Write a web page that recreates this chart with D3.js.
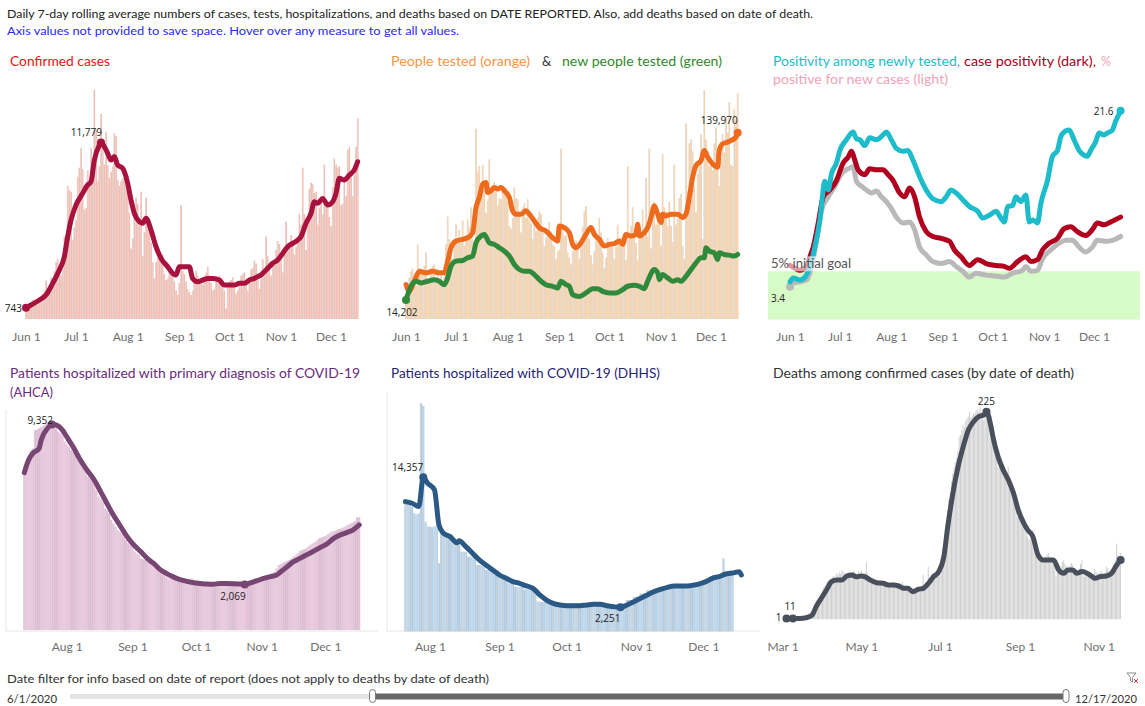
<!DOCTYPE html>
<html>
<head>
<meta charset="utf-8">
<script src="https://cdn.jsdelivr.net/npm/d3@7"></script>
<style>
  html, body { margin: 0; padding: 0; background: #fff; }
  svg { display: block; font-family: Lato, "Open Sans", "DejaVu Sans", sans-serif; }
</style>
</head>
<body>
<svg id="chart" width="1145" height="706"></svg>
<script>
// ---------------- DATA ----------------
// Tick labels
const ticksTop = ["2020-06-01","2020-07-01","2020-08-01","2020-09-01","2020-10-01","2020-11-01","2020-12-01"];
const ticksHosp = ["2020-08-01","2020-09-01","2020-10-01","2020-11-01","2020-12-01"];
const ticksDeaths = ["2020-03-01","2020-05-01","2020-07-01","2020-09-01","2020-11-01"];

// Confirmed cases, daily, Jun 1 .. Dec 17
const casesDaily = [
 750,700,1000,1100,1250,1300,1200, 970,1100,1370,1700,1900,2580,2000,
 1750,2780,2600,3200,3800,4000,3500, 2900,3300,5500,5000,8900,8600,8500,
 5300,6100,6600,9500,10100,11400,10000, 7300,7400,9900,8900,11400,10300,15300,
 12600,9200,10200,13700,11400,10300,12500, 10300,9400,9800,10200,12400,12200,9300,
 8900,9200,9400,9400,9000,9600,7100, 4700,5400,7700,8100,7700,6200,8500,
 4200,5800,8100,6200,6200,5100,3800, 2700,3800,4100,4500,4000,4300,3000,
 2600,2700,3200,3300,3100,2500,1900, 1600,2400,7600,3200,3000,2500,2000,
 1800,1600,1900,2500,3200,2900,2600, 2400,2300,2800,3100,3500,2900,2400,
 1900,2000,2600,2700,2900,2600,2200, 1900,700,2100,2500,2600,2800,2400,
 1700,1900,2500,2900,3000,3100,2500, 1900,2500,3300,3400,3900,3700,2800,
 2000,2700,4000,3400,5500,4200,3300, 2900,3900,4000,4600,5200,5000,4000,
 3100,4500,6500,4600,5000,5600,4900, 4300,4800,5400,7000,6300,10100,7000,
 4600,6700,8700,9100,9000,8400,8500, 6300,7400,8200,7000,10300,7800,7600,
 6800,6200,8800,10700,10300,10100,10200, 7600,7700,9400,8200,11300,11500,9800,
 8200,9600,11500,13400];
// 7-day average of cases (day offset from Jun 1, value)
const casesAvgDay = [0,3,8,12,16,20,23,25,27,30,34,37,39,41,44,45,47,49,51,53,55,58,61,63,65,68,70,72,75,78,81,85,88,90,92,95,98,100,103,106,109,112,116,119,122,125,128,131,134,137,139,141,143,145,148,151,154,157,160,163,165,168,171,173,175,178,181,184,186,188,191,194,197,199];
const casesAvgVal = [743,935,1270,1600,2380,3270,4160,5500,6600,7610,8390,8950,9170,10600,11600,11779,11500,11060,10610,10840,10280,10060,9060,7940,7050,6500,6390,6720,5940,4830,4050,3490,3050,2940,3490,3490,3490,2710,2490,2600,2710,2710,2600,2270,2270,2270,2380,2380,2600,2710,2830,2940,3160,3380,3720,3940,4380,4830,5050,5270,5500,6390,7050,7830,7720,8050,7610,7830,8390,9390,9280,9610,9950,10500];

// People tested, daily (thousands), Jun 1 .. Dec 17
const testsDailyK = [
 14,26,31,36,38,30,25, 56,38,36,33,40,50,30, 28,38,40,41,31,38,30,
 33,26,41,56,77,60,50, 45,60,71,60,67,57,74, 55,63,75,69,84,60,50,
 143,111,115,102,116,104,80, 89,120,99,101,103,96,85, 91,90,100,94,99,88,70,
 68,76,99,91,90,80,65, 84,87,76,90,74,72,60, 71,66,76,81,79,65,55,
 61,63,73,66,56,55,45, 51,52,128,71,62,63,50, 46,41,51,56,59,55,45,
 61,69,81,85,61,60,48, 41,51,66,61,76,65,50, 38,46,61,56,54,54,45,
 54,71,56,61,56,58,44, 115,61,70,84,68,57,44, 60,61,82,62,106,62,128,
 53,74,88,71,82,72,55, 124,84,81,70,88,70,58, 116,71,76,91,94,55,45,
 147,96,132,135,126,100,80, 109,117,139,60,172,135,126, 115,120,112,132,144,128,100,
 120,139,125,152,140,163,116, 115,158,150,170];
const testedAvgDay = [0,2,5,8,12,16,20,23,25,27,30,34,37,40,42,44,46,48,49,51,53,55,57,59,62,64,66,69,72,74,77,80,84,88,91,92,95,98,100,102,105,108,111,113,116,119,122,125,128,130,132,135,138,139,140,143,145,147,149,151,153,154,156,159,163,166,168,170,172,174,177,179,181,184,187,188,190,193,195,198,199];
const testedAvgVal = [25900,20800,28400,35900,34700,35900,34700,34700,43500,53600,58600,59900,61100,64900,83800,91400,101400,102700,95100,96400,98900,97700,98900,96400,91400,81300,78800,78800,81300,78800,73700,68700,66200,61100,58600,69900,68700,64900,56100,53600,57300,63600,68700,63600,59900,54800,56100,56700,58600,56100,63600,62400,63600,71200,62400,64900,68700,76300,85100,78800,72500,78800,77500,78800,78800,76300,78800,91400,106500,115300,119100,126700,121700,116600,114100,126700,131700,133000,134200,136800,139970];
const newTestedAvgDay = [0,3,6,9,13,17,20,23,25,27,30,34,37,40,42,45,47,50,53,56,59,62,65,68,71,74,77,80,84,88,91,93,96,98,100,104,108,112,115,118,122,126,130,133,137,140,143,145,149,151,152,154,157,160,163,165,168,171,174,177,179,180,182,185,187,188,191,194,197,199];
const newTestedAvgVal = [14202,24600,28400,27100,28400,29600,28400,25800,30900,39700,43500,44000,46000,47300,57300,62400,63600,57300,56100,53600,51000,47300,41000,37200,35900,35900,33400,29600,25800,24600,23300,28400,25800,24600,18300,17000,19600,22800,22800,20800,19600,19600,22100,24600,25300,24600,22800,28400,37200,34700,29600,33400,30900,28400,29600,28400,32100,37200,42200,46000,46000,53600,51000,49800,44700,49800,48500,48000,47300,48500];

// Positivity (%)
const newPosDay = [0,2,6,9,12,15,18,21,23,25,28,30,34,38,40,42,45,48,52,56,58,61,64,68,71,74,78,82,86,91,94,97,100,104,108,113,116,120,124,127,129,131,134,136,139,142,144,146,149,151,155,158,161,163,165,168,171,174,177,179,181,184,186,189,191,194,196,199];
const newPosPct = [3.9,4.3,4.1,4.4,5.5,7.5,10.3,14.3,13.4,15.1,16.2,17.5,18.6,19.4,18.7,18.6,18.0,18.8,18.6,19.1,19.4,18.6,17.7,17.4,17.5,16.5,14.8,13.4,12.5,12.2,12.7,13.4,13.1,12.4,11.7,11.2,10.5,10.8,11.2,10.5,10.1,11.7,11.8,12.7,12.2,12.9,10.1,10.3,10.0,12.0,14.4,16.9,17.5,18.9,19.4,19.6,18.6,17.5,17.0,16.9,17.5,18.4,19.3,19.1,19.3,19.6,20.5,21.6];
const casePosDay = [0,3,6,10,12,14,17,20,24,28,32,35,37,39,41,45,48,52,56,59,62,66,69,72,75,78,82,86,91,96,99,103,108,113,118,124,129,132,137,142,145,149,152,156,161,165,169,173,178,182,185,189,193,199];
const casePosPct = [5.6,5.3,5.1,5.5,6.5,7.5,10.0,12.7,13.4,14.4,16.2,16.8,17.4,16.5,15.5,15.0,15.6,15.5,15.5,15.0,14.4,13.1,12.7,13.6,12.7,10.6,9.1,8.6,8.4,8.1,7.2,6.5,5.6,6.2,5.8,5.6,5.5,5.3,6.0,6.5,6.0,6.2,7.2,7.9,8.4,9.4,9.6,9.1,8.7,9.3,10.0,9.8,10.1,10.6];
const newCasePosDay = [0,2,6,10,13,16,19,23,27,31,35,38,40,43,46,49,52,55,58,61,64,68,72,75,78,82,86,91,96,100,104,108,112,118,124,129,134,140,142,145,149,152,157,162,166,170,174,178,182,185,190,194,199];
const newCasePosPct = [3.4,3.8,3.9,4.1,5.5,8.2,11.3,12.7,13.8,15.1,15.6,15.8,14.3,13.8,13.4,13.1,13.3,12.7,12.2,11.5,10.6,10.0,10.1,9.3,7.5,6.7,6.0,5.8,6.0,5.5,5.0,4.4,4.8,4.6,4.5,4.4,4.8,5.1,5.5,5.0,5.1,6.3,7.2,7.9,8.2,8.2,7.5,7.0,7.5,8.2,8.1,8.2,8.6];
const goalPct = 5;

// AHCA hospitalized, daily Jul 12 .. Dec 17
const ahcaDaily = [
 7280,7600,7890,8190,8270,9100,9120,9180,9250,9300,
 9410,9480,9450,9330,9250,9180,9030,8950,8870,8570,
 8450,8340,8190,8100,8040,8000,7960,7740,7600,7430,
 6980,6900,6830,6600,6350,6070,5950,5840,5540,5420,
 5310,5010,4850,4700,4550,4480,4400,4250,4100,3940,
 3860,3790,3560,3480,3410,3260,3220,3190,3150,3110,
 2960,2880,2810,2730,2690,2650,2500,2420,2350,2330,
 2310,2280,2260,2250,2200,2180,2150,2200,2300,2350,
 2250,2200,2150,2150,2140,2150,2130,2150,2140,2150,
 2130,2150,2140,2150,2120,2110,2100,2110,2100,2090,
 2110,2100,2120,2150,2160,2200,2250,2280,2300,2350,
 2350,2380,2430,2430,2450,2480,2500,2580,2650,2800,
 2960,3000,3060,3100,3150,3190,3250,3340,3400,3500,
 3600,3640,3680,3720,3800,3880,3940,4000,4080,4170,
 4200,4240,4280,4350,4400,4480,4500,4530,4580,4600,
 4650,4700,4750,4800,4850,4900,4950,5130,5130];
// (day offset from Aug 1)
const ahcaAvgDay = [-20,-18,-16,-13,-12,-9,-7,-5,-2,0,3,6,9,13,16,19,22,25,28,31,35,38,41,44,47,50,53,57,60,63,66,69,72,75,79,82,84,86,90,93,96,99,101,104,107,110,113,116,119,123,126,129,132,135,138];
const ahcaAvgVal = [7160,7740,8040,8270,8650,9180,9352,9330,9100,8800,8340,7810,7360,6830,6300,5760,5230,4780,4320,3940,3560,3260,3030,2760,2580,2430,2310,2210,2150,2120,2090,2080,2120,2120,2110,2090,2069,2120,2250,2350,2430,2500,2650,2880,3110,3260,3410,3560,3720,3940,4170,4320,4430,4550,4780];

// DHHS hospitalized, daily Jul 21 .. Dec 14
const dhhsDaily = [
 12100,11900,11800,11600,11000,10900,11000,21250,21000,10230,
 9770,9750,9700,9770,9920,6350,9140,9200,9140,9100,
 9000,8400,8370,8350,8300,7430,7430,7400,6970,6970,
 6950,6900,6190,6190,6150,6100,5730,5730,5700,5700,
 5260,5260,5250,4950,4950,4900,4490,4490,4450,4180,
 4180,4150,4150,3930,3930,3900,3900,3880,3860,2780,
 2780,2760,2750,2740,2720,2700,2680,2620,2620,2610,
 2620,2610,2600,2620,2610,2620,2600,2610,2620,2630,
 2640,2650,2650,2640,2640,2650,2640,2620,2600,2600,
 2470,2470,2460,2470,2450,2470,2560,2600,2620,2930,
 2930,2950,3240,3240,3250,3550,3550,3560,3860,3860,
 3860,3870,3880,3860,4180,4180,4200,4190,4240,4240,
 4240,4250,4230,4240,4250,4240,4250,4240,4420,4420,
 4430,4420,4550,4560,4550,4860,4870,4860,5110,5110,
 5120,5110,6810,5420,5420,5430,5420];
const dhhsAvgDay = [-11,-8,-5,-3,-1,2,4,6,9,12,13,16,19,22,25,28,31,34,37,40,43,46,49,52,55,58,61,64,67,70,73,76,79,82,85,88,91,94,97,100,103,106,109,112,115,118,121,124,126,129,132,134,136,138,139];
const dhhsAvgVal = [12090,11940,11630,14357,13800,13180,9920,9150,8830,8270,8460,7900,7280,6660,6190,5730,5260,4950,4640,4490,4240,4020,3400,2930,2620,2470,2400,2400,2400,2470,2530,2530,2400,2310,2251,2470,2780,3090,3400,3710,3930,4110,4240,4240,4240,4330,4490,4730,4950,5110,5350,5420,5480,5570,5260];

// Deaths by date of death, daily Mar 4 .. Nov 18
const deathsDaily = [
 1,0,1,0,0,1,0,1,1,2, 1,2,1,3,2,3,4,6,5,8,
 10,12,15,14,17,20,24,27,31,35, 37,39,41,42,43,44,46,47,45,50,
 48,51,49,53,52,50,47,49,51,50, 52,49,53,51,50,47,52,50,53,48,
 46,51,62,50,43,45,44,42,40,39, 38,41,40,42,39,41,38,40,39,38,
 37,39,38,40,39,36,35,37,36,35, 40,38,33,35,34,35,33,32,32,31,
 30,32,32,33,31,32,48,36,35,35, 57,42,44,50,46,49,52,55,52,55,
 60,68,73,85,104,118,130,137,150,158, 165,170,175,182,198,200,205,211,208,215,
 218,220,225,219,221,223,223,226,228,224, 230,225,220,216,220,221,218,212,196,220,
 205,198,191,180,165,170,168,173,162,155, 160,158,165,150,142,137,130,122,118,111,
 115,118,119,110,106,100,96,90,86,88, 92,97,88,80,72,70,72,68,66,63,
 65,68,70,72,68,66,64,64,60,46, 52,55,50,58,62,64,60,58,55,57,
 58,61,59,55,52,50,53,55,60,64, 48,46,50,52,50,47,45,44,49,55,
 52,50,48,50,53,50,49,51,57,55, 52,50,50,52,60,64,82,70,66,72];
// (day offset from Jul 1)
const deathsAvgDay = [-119,-114,-109,-103,-99,-96,-92,-88,-84,-80,-76,-72,-68,-65,-61,-58,-54,-49,-44,-40,-36,-32,-28,-25,-21,-17,-13,-9,-5,-1,3,6,10,14,18,22,26,30,34,36,39,41,45,49,53,57,61,65,68,72,76,80,84,88,92,96,99,103,106,110,114,118,120,124,129,133,137,140];
const deathsAvgVal = [1,1,1,2,4.7,13.7,22.8,31.8,40.8,42.6,42.6,47,48,46,47,46,42.6,39.7,39,37.2,37.2,36.1,33.6,33.6,30,32.5,33.6,39,46.2,51.7,67.9,100.4,136.6,165.5,187.2,205.2,214.2,219.7,221.5,225,212.4,198,176.3,161.9,151,136.6,116.7,104,96.8,89.6,69.7,64.3,64.3,64.3,53.5,49.9,53.5,53.5,49.9,51.7,49.9,46.2,44.4,46.2,47,49.9,58.9,64.3];

// ---------------- DRAWING ----------------
const svg = d3.select("#chart");
const U = s => new Date(s + "T00:00:00Z");
const off = (base, n) => d3.utcDay.offset(U(base), n);
const fmtInt = d3.format(",.0f");
const fmtDec = d3.format(".1f");
const LW = 5;

function txt(parent, x, y, s, o = {}) {
  const t = parent.append("text").attr("x", x).attr("y", y).text(s)
    .attr("font-size", o.size || 12).attr("fill", o.fill || "#333");
  if (o.anchor) t.attr("text-anchor", o.anchor);
  if (o.width) t.attr("textLength", o.width).attr("lengthAdjust", "spacingAndGlyphs");
  if (o.family) t.attr("font-family", o.family);
  return t;
}

function drawPanel(p) {
  const g = svg.append("g");
  const x = d3.scaleUtc().domain(p.xDomain.map(U)).range(p.xRange);
  const y = d3.scaleLinear().domain(p.yDomain).range(p.yRange);
  const bw = x(U("2020-07-02")) - x(U("2020-07-01"));

  if (p.band) {
    g.append("rect").attr("x", p.band.x0).attr("width", p.band.x1 - p.band.x0)
      .attr("y", y(p.band.top)).attr("height", y(0) - y(p.band.top)).attr("fill", p.band.color);
  }
  if (p.bars) {
    const data = p.bars.map((v, i) => ({ d: off(p.barStart, i), v: v * (p.barScale || 1) }));
    if (p.grayColor) {
      g.append("g").selectAll("rect").data(data).join("rect")
        .attr("x", d => x(d.d) - bw / 2).attr("width", bw * p.grayW)
        .attr("y", d => y(d.v)).attr("height", d => Math.max(0, y(0) - y(d.v)))
        .attr("fill", p.grayColor);
    }
    g.append("g").selectAll("rect").data(data).join("rect")
      .attr("x", d => x(d.d) - bw / 2 + bw * (p.colorX || 0)).attr("width", bw * p.colorW)
      .attr("y", d => y(d.v)).attr("height", d => Math.max(0, y(0) - y(d.v)))
      .attr("fill", p.barColor);
  }
  const line = d3.line().x(d => x(d.d)).y(d => y(d.v)).curve(d3.curveMonotoneX);
  const lineData = p.lines.map(L => L.days.map((n, i) => ({ d: off(L.base, n), v: L.vals[i] })));
  const pick = (arr, idx) => {
    if (idx === "first") return arr[0];
    if (idx === "last") return arr[arr.length - 1];
    if (idx === "max") return arr[d3.maxIndex(arr, d => d.v)];
    if (idx === "min") return arr[d3.minIndex(arr, d => d.v)];
    return arr[idx];
  };
  p.lines.forEach((L, k) => {
    g.append("path").datum(lineData[k]).attr("d", line).attr("fill", "none")
      .attr("stroke", L.color).attr("stroke-width", L.width || LW)
      .attr("stroke-linejoin", "round").attr("stroke-linecap", "round");
    (L.dots || []).forEach(idx => {
      const pt = pick(lineData[k], idx);
      g.append("circle").attr("cx", x(pt.d)).attr("cy", y(pt.v)).attr("r", 4).attr("fill", L.color);
    });
  });
  if (p.overlay) p.overlay(g, x, y);
  (p.labels || []).forEach(lb => {
    const pt = pick(lineData[lb.line], lb.idx);
    txt(g, x(pt.d) + lb.dx, y(pt.v) + lb.dy, lb.text != null ? lb.text : (p.fmt || fmtInt)(pt.v),
      { size: 10, fill: "#222", anchor: lb.anchor || "middle", family: "'Open Sans', sans-serif" });
  });
  const ax = g.append("g").attr("transform", `translate(0,${p.axisY})`)
    .call(d3.axisBottom(x).tickValues(p.ticks.map(U)).tickFormat(d3.utcFormat("%b %-d")).tickSize(0).tickPadding(0));
  ax.select(".domain").remove();
  ax.selectAll("text").attr("font-size", 12).attr("fill", "#707070").attr("font-family", "Lato, sans-serif");
  return { x, y };
}

// Header
txt(svg, 7, 18, "Daily 7-day rolling average numbers of cases, tests, hospitalizations, and deaths based on DATE REPORTED. Also, add deaths based on date of death.", { size: 12, fill: "#222", width: 806 });
txt(svg, 7, 35, "Axis values not provided to save space. Hover over any measure to get all values.", { size: 12, fill: "#2b2bf0", width: 452 });

// Titles
txt(svg, 10, 66, "Confirmed cases", { size: 13, fill: "#f01010", width: 100 });
txt(svg, 391, 66, "People tested (orange)", { size: 13, fill: "#f5964a", width: 139 });
txt(svg, 542, 66, "&", { size: 13, fill: "#333" });
txt(svg, 562, 66, "new people tested (green)", { size: 13, fill: "#2f8a2a", width: 160 });
txt(svg, 773, 66, "Positivity among newly tested,", { size: 13, fill: "#1fbccb", width: 187 });
txt(svg, 964, 66, "case positivity (dark),", { size: 13, fill: "#a8001c", width: 132 });
txt(svg, 1101, 66, "%", { size: 13, fill: "#f2a3b6", width: 10 });
txt(svg, 773, 84, "positive for new cases (light)", { size: 13, fill: "#f2a3b6", width: 175 });
txt(svg, 10, 378, "Patients hospitalized with primary diagnosis of COVID-19", { size: 13, fill: "#6a2c7c", width: 350 });
txt(svg, 10, 397, "(AHCA)", { size: 13, fill: "#6a2c7c", width: 43 });
txt(svg, 391, 378, "Patients hospitalized with COVID-19 (DHHS)", { size: 13, fill: "#1f2672", width: 269 });
txt(svg, 773, 378, "Deaths among confirmed cases (by date of death)", { size: 13, fill: "#333", width: 301 });

// Panel frames (bottom row)
svg.append("line").attr("x1", 6).attr("x2", 378).attr("y1", 631).attr("y2", 631).attr("stroke", "#e6e6e6");
svg.append("line").attr("x1", 6).attr("x2", 6).attr("y1", 410).attr("y2", 631).attr("stroke", "#e6e6e6");
svg.append("line").attr("x1", 387).attr("x2", 760).attr("y1", 631).attr("y2", 631).attr("stroke", "#e6e6e6");
svg.append("line").attr("x1", 387).attr("x2", 387).attr("y1", 392).attr("y2", 631).attr("stroke", "#e6e6e6");

// Panel 1: confirmed cases
drawPanel({
  xDomain: ["2020-06-01", "2020-12-01"], xRange: [26, 331],
  yDomain: [0, 15500], yRange: [319, 86.8],
  bars: casesDaily, barStart: "2020-06-01", barColor: "#f7a898", colorX: 0.45, colorW: 0.5, grayColor: "#d2d2d2", grayW: 0.45,
  lines: [{ base: "2020-06-01", days: casesAvgDay, vals: casesAvgVal, color: "#a8123e", dots: ["first", "max"] }],
  labels: [{ line: 0, idx: "first", dx: -4, dy: 4, anchor: "end" }, { line: 0, idx: "max", dx: 1, dy: -6.5, anchor: "end" }],
  ticks: ticksTop, axisY: 332.5
});

// Panel 2: tests
drawPanel({
  xDomain: ["2020-06-01", "2020-12-01"], xRange: [406, 711],
  yDomain: [0, 172000], yRange: [319, 90.2],
  bars: testsDailyK, barScale: 1000, barStart: "2020-06-01", barColor: "#f9c690", colorX: 0.45, colorW: 0.5, grayColor: "#d4d4d4", grayW: 0.45,
  lines: [
    { base: "2020-06-01", days: testedAvgDay, vals: testedAvgVal, color: "#ee6b1e", dots: ["last"] },
    { base: "2020-06-01", days: newTestedAvgDay, vals: newTestedAvgVal, color: "#2f8a3c", dots: ["first"] }
  ],
  labels: [{ line: 1, idx: "first", dx: -4, dy: 16, anchor: "middle" }, { line: 0, idx: "last", dx: 0, dy: -9, anchor: "end" }],
  ticks: ticksTop, axisY: 332.5
});

// Panel 3: positivity
drawPanel({
  xDomain: ["2020-06-01", "2020-12-01"], xRange: [790, 1094],
  yDomain: [0, 22], yRange: [319.6, 106.9],
  band: { top: goalPct, x0: 768, x1: 1140, color: "#d6fbc6" },
  lines: [
    { base: "2020-06-01", days: newCasePosDay, vals: newCasePosPct, color: "#b9b9b9", dots: ["first"] },
    { base: "2020-06-01", days: casePosDay, vals: casePosPct, color: "#b0001e" },
    { base: "2020-06-01", days: newPosDay, vals: newPosPct, color: "#1cbccb", dots: ["last"] }
  ],
  overlay: (g, x, y) => {
    g.append("rect").attr("x", 768).attr("y", y(goalPct) - 15).attr("width", 86).attr("height", 15)
      .attr("fill", "#fff").attr("opacity", 0.6);
    txt(g, 771, y(goalPct) - 3.5, "5% initial goal", { size: 12.5, fill: "#555", width: 80 });
  },
  fmt: fmtDec,
  labels: [{ line: 2, idx: "last", dx: -7, dy: 4, anchor: "end" }, { line: 0, idx: "first", dx: -5, dy: 15, anchor: "end" }],
  ticks: ticksTop, axisY: 332.5
});

// Panel 4: AHCA
drawPanel({
  xDomain: ["2020-08-01", "2020-12-01"], xRange: [66.7, 325.3],
  yDomain: [0, 10000], yRange: [630, 410.3],
  bars: ahcaDaily, barStart: "2020-07-12", barColor: "#e9b4d8", colorX: 0.45, colorW: 0.55, grayColor: "#cdcdcd", grayW: 0.45,
  lines: [{ base: "2020-08-01", days: ahcaAvgDay, vals: ahcaAvgVal, color: "#774672", dots: ["max", "min"] }],
  labels: [{ line: 0, idx: "max", dx: 1, dy: -1, anchor: "end" }, { line: 0, idx: "min", dx: 1, dy: 15.5, anchor: "end" }],
  ticks: ticksHosp, axisY: 642.5
});

// Panel 5: DHHS
drawPanel({
  xDomain: ["2020-08-01", "2020-12-01"], xRange: [430, 703.3],
  yDomain: [0, 22000], yRange: [631.5, 395.2],
  bars: dhhsDaily, barStart: "2020-07-21", barColor: "#a9cdeb", colorX: 0.45, colorW: 0.55, grayColor: "#cdcdcd", grayW: 0.45,
  lines: [{ base: "2020-08-01", days: dhhsAvgDay, vals: dhhsAvgVal, color: "#2b5986", dots: ["max", "min"] }],
  labels: [{ line: 0, idx: "max", dx: 0, dy: -6, anchor: "end" }, { line: 0, idx: "min", dx: 0, dy: 15, anchor: "end" }],
  ticks: ticksHosp, axisY: 642.5
});

// Panel 6: deaths by date of death
drawPanel({
  xDomain: ["2020-07-01", "2020-11-01"], xRange: [940, 1098.7],
  yDomain: [0, 240], yRange: [619.3, 397.9],
  bars: deathsDaily, barStart: "2020-03-04", barColor: "#d0d0d0", colorW: 0.8,
  lines: [{ base: "2020-07-01", days: deathsAvgDay, vals: deathsAvgVal, color: "#4a505b", dots: [0, 1, "max", "last"] }],
  labels: [
    { line: 0, idx: "max", dx: 0, dy: -7, anchor: "middle" },
    { line: 0, idx: 0, dx: -5, dy: 3, anchor: "end" },
    { line: 0, idx: 0, dx: 1, dy: -8, anchor: "middle" },
    { line: 0, idx: 1, dx: 0, dy: -8, anchor: "middle" }
  ],
  ticks: ticksDeaths, axisY: 642.5
});

// Footer / date filter
txt(svg, 7, 683, "Date filter for info based on date of report (does not apply to deaths by date of death)", { size: 12, fill: "#333", width: 482 });
txt(svg, 7, 703, "6/1/2020", { size: 11.5, fill: "#333", width: 50 });
txt(svg, 1075, 703, "12/17/2020", { size: 11.5, fill: "#333", width: 62 });
svg.append("rect").attr("x", 70).attr("y", 694).attr("width", 996).attr("height", 5).attr("fill", "#e4e4e4");
svg.append("rect").attr("x", 374).attr("y", 693.5).attr("width", 692).attr("height", 6).attr("fill", "#666");
[372.5, 1066].forEach(cx => {
  svg.append("rect").attr("x", cx - 3).attr("y", 689.5).attr("width", 6).attr("height", 13).attr("rx", 3)
    .attr("fill", "#fff").attr("stroke", "#777").attr("stroke-width", 1);
});
// filter icon
svg.append("path").attr("d", "M1127,673 L1136,673 L1132.5,677.5 L1132.5,682 L1130.5,681 L1130.5,677.5 Z")
  .attr("fill", "none").attr("stroke", "#888").attr("stroke-width", 1);
svg.append("path").attr("d", "M1134,679 L1138,683 M1138,679 L1134,683").attr("stroke", "#e03030").attr("stroke-width", 1);
</script>
</body>
</html>
